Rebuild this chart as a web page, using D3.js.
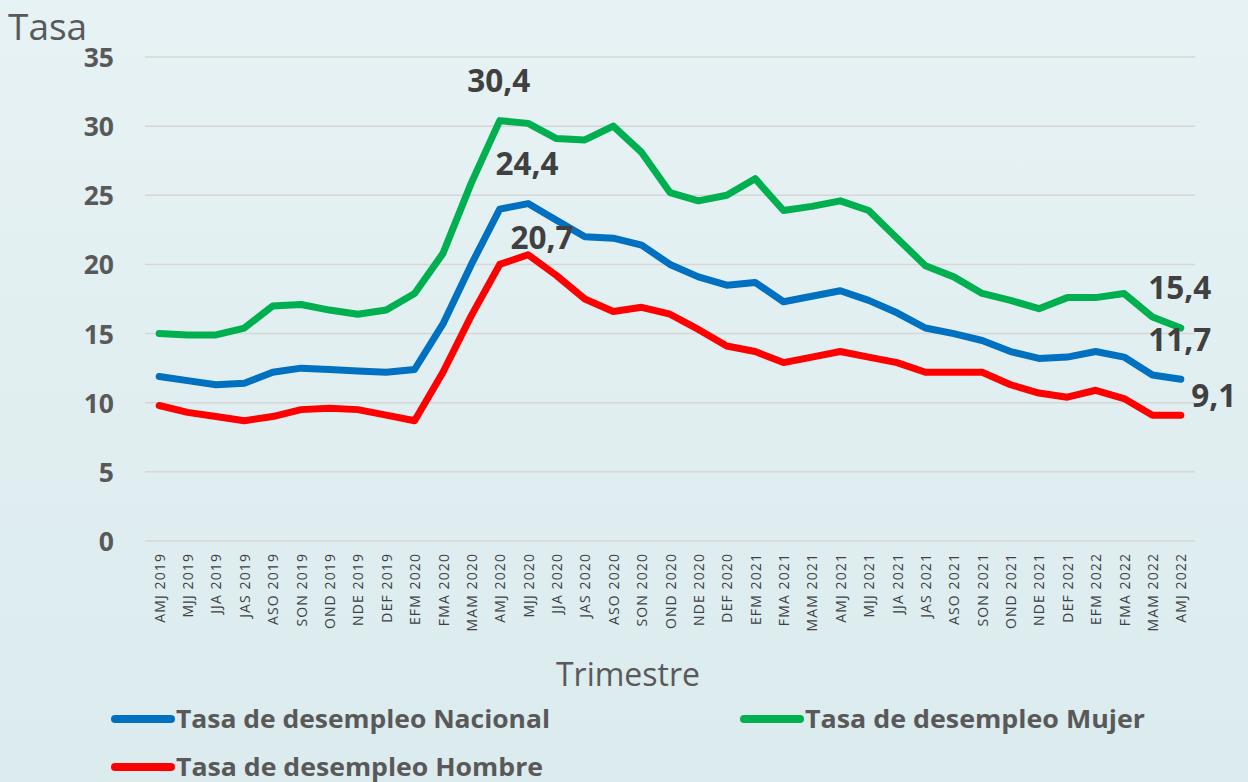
<!DOCTYPE html>
<html><head><meta charset="utf-8">
<script src="https://cdn.jsdelivr.net/npm/d3@7"></script>
<style>html,body{margin:0;padding:0;}svg{display:block;}</style>
</head><body>
<script>
const categories = ["AMJ 2019","MJJ 2019","JJA 2019","JAS 2019","ASO 2019","SON 2019","OND 2019","NDE 2019","DEF 2019","EFM 2020","FMA 2020","MAM 2020","AMJ 2020","MJJ 2020","JJA 2020","JAS 2020","ASO 2020","SON 2020","OND 2020","NDE 2020","DEF 2020","EFM 2021","FMA 2021","MAM 2021","AMJ 2021","MJJ 2021","JJA 2021","JAS 2021","ASO 2021","SON 2021","OND 2021","NDE 2021","DEF 2021","EFM 2022","FMA 2022","MAM 2022","AMJ 2022"];
const nacional = [11.9,11.6,11.3,11.4,12.2,12.5,12.4,12.3,12.2,12.4,15.7,20.0,24.0,24.4,23.2,22.0,21.9,21.4,20.0,19.1,18.5,18.7,17.3,17.7,18.1,17.4,16.5,15.4,15.0,14.5,13.7,13.2,13.3,13.7,13.3,12.0,11.7];
const mujer = [15.0,14.9,14.9,15.4,17.0,17.1,16.7,16.4,16.7,17.9,20.8,25.9,30.4,30.2,29.1,29.0,30.0,28.1,25.2,24.6,25.0,26.2,23.9,24.2,24.6,23.9,21.9,19.9,19.1,17.9,17.4,16.8,17.6,17.6,17.9,16.2,15.4];
const hombre = [9.8,9.3,9.0,8.7,9.0,9.5,9.6,9.5,9.1,8.7,12.2,16.3,20.0,20.7,19.2,17.5,16.6,16.9,16.4,15.3,14.1,13.7,12.9,13.3,13.7,13.3,12.9,12.2,12.2,12.2,11.3,10.7,10.4,10.9,10.3,9.1,9.1];
const yTicks = [0,5,10,15,20,25,30,35];
const seriesNames = ["Tasa de desempleo Nacional","Tasa de desempleo Mujer","Tasa de desempleo Hombre"];
const seriesColors = ["#0070c0","#00b050","#ff0000"];
// annotations: [series index, category index, label]
const annotations = [[1,12,"30,4"],[0,13,"24,4"],[2,13,"20,7"],[1,36,"15,4"],[0,36,"11,7"],[2,36,"9,1"]];

const W = 1248, H = 782;
const svg = d3.select("body").append("svg").attr("width", W).attr("height", H);
const defs = svg.append("defs");
const grad = defs.append("linearGradient").attr("id","bg").attr("x1",0).attr("y1",0).attr("x2",0).attr("y2",1);
grad.append("stop").attr("offset","0%").attr("stop-color","#e7f2f4");
grad.append("stop").attr("offset","100%").attr("stop-color","#dbebee");
svg.append("rect").attr("width",W).attr("height",H).attr("fill","url(#bg)");

const pLeft = 145, pRight = 1195, pTop = 57, pBottom = 541;
const x = d3.scalePoint().domain(categories).range([pLeft, pRight]).padding(0.5);
const y = d3.scaleLinear().domain([0,35]).range([pBottom, pTop]);

// grid
svg.append("g").selectAll("line").data(yTicks).join("line")
  .attr("x1", pLeft).attr("x2", pRight)
  .attr("y1", d => y(d)).attr("y2", d => y(d))
  .attr("stroke", "#d6d6d6").attr("stroke-width", 1.5);

// y axis labels
const yAxis = d3.axisLeft(y).tickValues(yTicks).tickSize(0).tickPadding(0);
const ya = svg.append("g").attr("transform", `translate(114,0)`).call(yAxis);
ya.select(".domain").remove();
ya.selectAll("text").attr("font-family","Open Sans, sans-serif").attr("font-weight","bold")
  .attr("font-size", 26.5).attr("fill","#595959").attr("dy","0.36em");

// x axis labels
const xAxis = d3.axisBottom(x).tickSize(0).tickPadding(0);
const xa = svg.append("g").attr("transform", `translate(0,${pBottom})`).call(xAxis);
xa.select(".domain").remove();
xa.selectAll("text").attr("font-family","Open Sans, sans-serif").attr("font-size", 14)
  .attr("letter-spacing", 1.1)
  .attr("fill","#404040").attr("text-anchor","end")
  .attr("transform","rotate(-90)").attr("x",-12).attr("y",0).attr("dy","0.36em");

// lines
const allSeries = [nacional, mujer, hombre];
const line = d3.line().x((d,i) => x(categories[i])).y(d => y(d));
[1,0,2].forEach(si => {
  svg.append("path").datum(allSeries[si]).attr("d", line)
    .attr("fill","none").attr("stroke", seriesColors[si]).attr("stroke-width", 7)
    .attr("stroke-linejoin","round").attr("stroke-linecap","round");
});

// annotations
const annOffsets = {"30,4":[-1,-29],"24,4":[-1,-28.5],"20,7":[14,-6],"15,4":[-1,-29],"11,7":[-1,-28.5],"9,1":[33,-8.5]};
svg.append("g").selectAll("text").data(annotations).join("text")
  .attr("x", d => x(categories[d[1]]) + annOffsets[d[2]][0])
  .attr("y", d => y(allSeries[d[0]][d[1]]) + annOffsets[d[2]][1])
  .attr("text-anchor","middle")
  .attr("font-family","Open Sans, sans-serif").attr("font-weight","bold").attr("font-size", 31.5)
  .attr("fill","#404040").text(d => d[2]);

// titles
svg.append("text").attr("x", 8).attr("y", 40).attr("font-family","Open Sans, sans-serif")
  .attr("font-size", 37).attr("fill","#595959").text("Tasa");
svg.append("text").attr("x", 628).attr("y", 686).attr("text-anchor","middle").attr("font-family","Open Sans, sans-serif")
  .attr("font-size", 32).attr("fill","#595959").text("Trimestre");

// legend
const legPos = [[115,719],[744,719],[115,767]];
const legLen = [374, 340, 367];
const lg = svg.append("g").selectAll("g").data(seriesNames).join("g")
  .attr("transform",(d,i)=>`translate(${legPos[i][0]},${legPos[i][1]})`);
lg.append("line").attr("x1",0).attr("x2",56).attr("y1",0).attr("y2",0)
  .attr("stroke",(d,i)=>seriesColors[i]).attr("stroke-width",8).attr("stroke-linecap","round");
lg.append("text").attr("x",61).attr("y",8.5)
  .attr("font-family","Open Sans, sans-serif").attr("font-weight","bold").attr("font-size",24.5)
  .attr("fill","#595959").attr("textLength",(d,i)=> legLen[i]).attr("lengthAdjust","spacingAndGlyphs")
  .text(d=>d);
</script>
</body></html>
